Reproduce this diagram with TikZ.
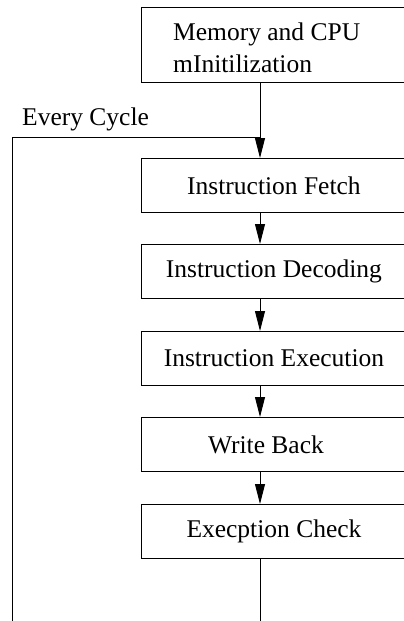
\documentclass[tikz,border=0pt]{standalone}
\usepackage{fontspec}
\setmainfont{Liberation Serif}
\usetikzlibrary{arrows.meta}
\tikzset{
  stage/.style={draw, line width=0.9pt, rectangle, minimum width=265pt, minimum height=54pt,
    inner sep=0pt, font=\fontsize{25.5}{30}\selectfont, anchor=north west},
  flow/.style={line width=0.9pt, -{Triangle[length=20pt,width=10pt]}},
  wire/.style={line width=0.9pt},
  lbl/.style={font=\fontsize{25.5}{30}\selectfont, inner sep=0pt, anchor=base west}
}
\begin{document}
\begin{tikzpicture}[x=1pt,y=-1pt]
  \useasboundingbox (0,0) rectangle (404,621);
  \clip (0,0) rectangle (404,621);

  % start-up block
  \node[draw, line width=0.9pt, rectangle, minimum width=265pt, minimum height=75pt,
        inner sep=0pt, anchor=north west] (init) at (141,7) {};
  \node[lbl] (initA) at (173,40) {Memory and CPU};
  \node[lbl] (initB) at (173,72) {mInitilization};

  % pipeline stages
  \node[stage] (fetch)  at (141,158) {Instruction Fetch};
  \node[stage] (decode) at (141,244) {Instruction Decoding};
  \node[stage] (exec)   at (141,331) {Instruction Execution};
  \node[stage] (wb)     at (141,417) {\hspace*{-16pt}Write Back};
  \node[stage] (check)  at (141,504) {Execption Check};

  % the flow runs down this column
  \coordinate (join)  at (260,137);
  \coordinate (loopB) at (260,660);
  \coordinate (loopL) at (12,660);
  \coordinate (loopT) at (12,137);

  \draw[wire] (init.south -| join) -- (join);
  \draw[flow] (join) -- (fetch.north -| join);
  \draw[flow] (fetch.south -| join) -- (decode.north -| join);
  \draw[flow] (decode.south -| join) -- (exec.north -| join);
  \draw[flow] (exec.south -| join) -- (wb.north -| join);
  \draw[flow] (wb.south -| join) -- (check.north -| join);

  % feedback loop back to the fetch stage
  \draw[wire] (check.south -| join) -- (loopB) -- (loopL) -- (loopT) -- (join);
  \node[lbl] (cyc) at (22,125) {Every Cycle};
\end{tikzpicture}
\end{document}
